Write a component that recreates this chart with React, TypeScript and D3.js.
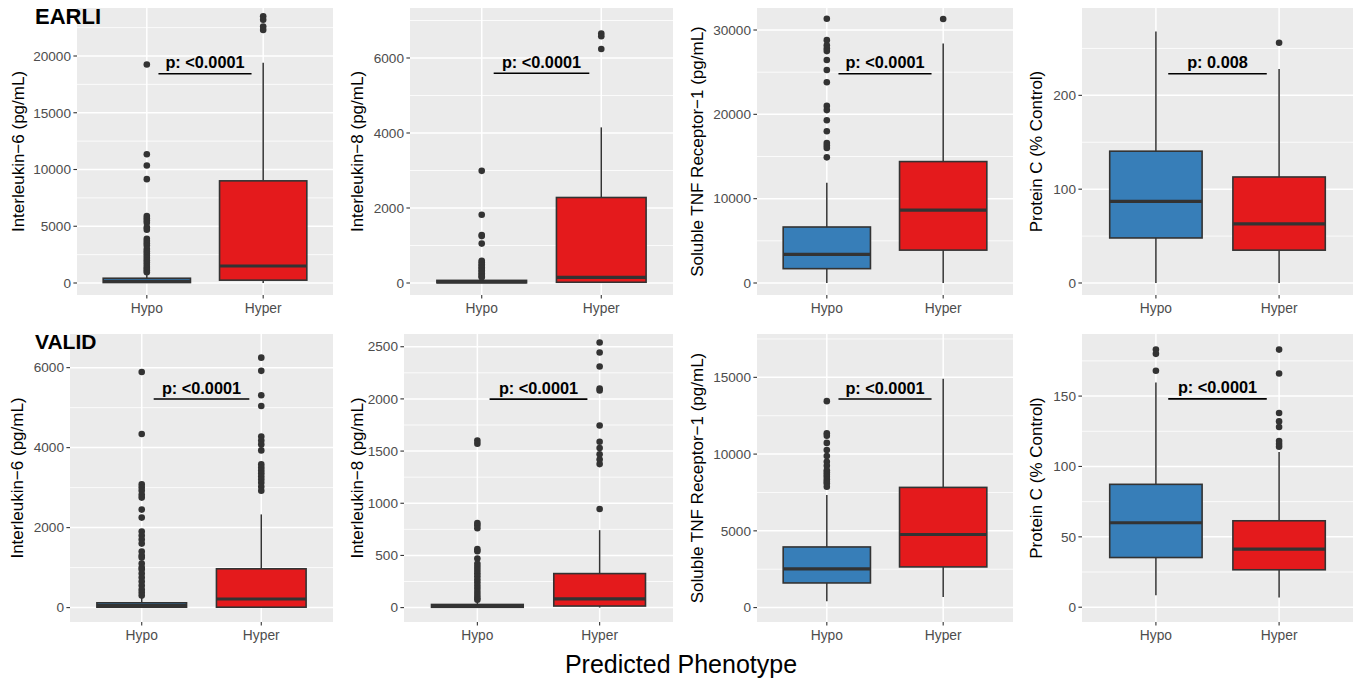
import React from "react";
import * as d3 from "d3";

// ---------- data ----------
const categories = ["Hypo", "Hyper"];
const cohorts = ["EARLI", "VALID"];
const markerTitles = [
  "Interleukin\u22126 (pg/mL)",
  "Interleukin\u22128 (pg/mL)",
  "Soluble TNF Receptor\u22121 (pg/mL)",
  "Protein C (% Control)",
];
const xAxisTitle = "Predicted Phenotype";

// box stats per category: [lowerWhisker, q1, median, q3, upperWhisker]
const earliIL6Stats = [[0, 40, 150, 420, 850], [0, 250, 1500, 9000, 19400]];
const earliIL6Outliers = [
  [19250, 11350, 10350, 9150, 5900, 5700, 5500, 5300, 4900, 4700, 3900, 3700, 3500, 3300, 3000, 2800, 2600, 2400, 2200, 2000, 1800, 1600, 1400, 1250, 1100, 950],
  [23500, 23200, 22600, 22300],
];
const earliIL8Stats = [[0, 5, 30, 70, 130], [0, 20, 150, 2280, 4150]];
const earliIL8Outliers = [
  [2990, 1820, 1280, 1250, 1050, 590, 550, 500, 460, 420, 380, 340, 300, 260, 220, 180, 150],
  [6650, 6580, 6240],
];
const earliTNFStats = [[0, 1700, 3400, 6640, 11900], [0, 3900, 8650, 14400, 28400]];
const earliTNFOutliers = [
  [31340, 28800, 28200, 27800, 27500, 26450, 25250, 23800, 21000, 20500, 19300, 18000, 16600, 16300, 16000, 14900],
  [31300],
];
const earliPCStats = [[0, 48, 87, 140.5, 268], [0, 35, 63, 113, 228]];
const earliPCOutliers = [[], [256]];

const validIL6Stats = [[0, 10, 50, 120, 250], [0, 10, 215, 970, 2330]];
const validIL6Outliers = [
  [5890, 4340, 3080, 3000, 2920, 2820, 2750, 2450, 2250, 1900, 1800, 1700, 1600, 1400, 1300, 1250, 1100, 1000, 950, 850, 750, 650, 550, 450, 380, 300],
  [6250, 5920, 5310, 5040, 4280, 4180, 4080, 3930, 3580, 3500, 3430, 3360, 3280, 3200, 3120, 3020, 2920],
];
const validIL8Stats = [[0, 3, 12, 30, 60], [0, 15, 83, 326, 742]];
const validIL8Outliers = [
  [1600, 1570, 810, 790, 760, 560, 540, 470, 420, 390, 360, 330, 300, 270, 240, 210, 180, 150, 120, 95, 75],
  [2540, 2445, 2310, 2100, 2080, 1745, 1590, 1530, 1470, 1420, 1375, 945],
];
const validTNFStats = [[410, 1605, 2520, 3950, 7340], [690, 2650, 4760, 7830, 14910]];
const validTNFOutliers = [
  [13450, 11350, 11200, 10730, 10260, 9870, 9500, 9240, 8950, 8800, 8650, 8520, 8350, 8200, 8090, 7870],
  [],
];
const validPCStats = [[8.5, 35.3, 60, 87.3, 159.6], [6.9, 26.6, 41.3, 61.4, 110.2]];
const validPCOutliers = [[183, 180, 168], [183, 166, 138, 132, 128, 118, 116, 114]];

// y limits (including expansion) and tick labels
const yDomains = [
  [-1057, 24229], [-320, 7333], [-1423, 32610], [-12.8, 293.1],
  [-360, 6841], [-138, 2622], [-939, 17824], [-10.5, 194.1],
];
const yMajorTicks = [
  [0, 5000, 10000, 15000, 20000], [0, 2000, 4000, 6000], [0, 10000, 20000, 30000], [0, 100, 200],
  [0, 2000, 4000, 6000], [0, 500, 1000, 1500, 2000, 2500], [0, 5000, 10000, 15000], [0, 50, 100, 150],
];
const yMinorTicks = [
  [2500, 7500, 12500, 17500, 22500], [1000, 3000, 5000, 7000], [5000, 15000, 25000], [50, 150, 250],
  [1000, 3000, 5000], [250, 750, 1250, 1750, 2250], [2500, 7500, 12500, 17500], [25, 75, 125, 175],
];
const pLabels = [
  "p: <0.0001", "p: <0.0001", "p: <0.0001", "p: 0.008",
  "p: <0.0001", "p: <0.0001", "p: <0.0001", "p: <0.0001",
];
const pLineValues = [18440, 5592, 24820, 223, 5214, 1998, 13585, 148];

const allStats = [earliIL6Stats, earliIL8Stats, earliTNFStats, earliPCStats, validIL6Stats, validIL8Stats, validTNFStats, validPCStats];
const allOutliers = [earliIL6Outliers, earliIL8Outliers, earliTNFOutliers, earliPCOutliers, validIL6Outliers, validIL8Outliers, validTNFOutliers, validPCOutliers];

// ---------- layout ----------
const layout = [
  { left: 77, right: 333, top: 8, bottom: 295, titleX: 18 },
  { left: 410, right: 673, top: 8, bottom: 295, titleX: 357 },
  { left: 757, right: 1013, top: 8, bottom: 295, titleX: 697 },
  { left: 1082, right: 1353, top: 8, bottom: 295, titleX: 1036 },
  { left: 70, right: 333, top: 334, bottom: 622, titleX: 17 },
  { left: 404, right: 673, top: 334, bottom: 622, titleX: 357 },
  { left: 757, right: 1013, top: 334, bottom: 622, titleX: 697 },
  { left: 1082, right: 1353, top: 334, bottom: 622, titleX: 1036 },
];

const FONT = "'Liberation Sans', Arial, Helvetica, sans-serif";
const fills = ["#377EB8", "#E41A1C"];
const DARK = "#333333";

function Panel({ i }: { i: number }) {
  const L = layout[i];
  const y = d3.scaleLinear().domain(yDomains[i]).range([L.bottom, L.top]);
  const x = d3.scalePoint<string>().domain(categories).range([L.left, L.right]).padding(0.6);
  const step = x.step();
  const bw = step * 0.75;
  const stats = allStats[i];
  const outs = allOutliers[i];
  const x0 = x(categories[0])!;
  const x1 = x(categories[1])!;
  const lx0 = x0 + (x1 - x0) * 0.1;
  const lx1 = x0 + (x1 - x0) * 0.9;
  const ly = y(pLineValues[i]);
  return (
    <g>
      <rect x={L.left} y={L.top} width={L.right - L.left} height={L.bottom - L.top} fill="#EBEBEB" />
      {yMinorTicks[i].map((t) => (
        <line key={"mi" + t} x1={L.left} x2={L.right} y1={y(t)} y2={y(t)} stroke="#fff" strokeWidth={0.8} />
      ))}
      {yMajorTicks[i].map((t) => (
        <line key={"ma" + t} x1={L.left} x2={L.right} y1={y(t)} y2={y(t)} stroke="#fff" strokeWidth={1.5} />
      ))}
      {categories.map((c) => (
        <line key={"vx" + c} x1={x(c)} x2={x(c)} y1={L.top} y2={L.bottom} stroke="#fff" strokeWidth={1.5} />
      ))}
      {/* y ticks */}
      {yMajorTicks[i].map((t) => (
        <g key={"yt" + t}>
          <line x1={L.left - 3.6} x2={L.left} y1={y(t)} y2={y(t)} stroke={DARK} strokeWidth={1.1} />
          <text x={L.left - 6} y={y(t)} dy="0.35em" textAnchor="end" fontSize={13.6} fill="#4D4D4D" fontFamily={FONT}>
            {t}
          </text>
        </g>
      ))}
      {/* x ticks */}
      {categories.map((c) => (
        <g key={"xt" + c}>
          <line x1={x(c)} x2={x(c)} y1={L.bottom} y2={L.bottom + 3.6} stroke={DARK} strokeWidth={1.1} />
          <text x={x(c)} y={L.bottom + 13} dy="0.35em" textAnchor="middle" fontSize={13.8} fill="#4D4D4D" fontFamily={FONT}>
            {c}
          </text>
        </g>
      ))}
      {/* boxes */}
      {categories.map((c, k) => {
        const [lo, q1, md, q3, hi] = stats[k];
        const cx = x(c)!;
        return (
          <g key={"bx" + c}>
            <line x1={cx} x2={cx} y1={y(hi)} y2={y(q3)} stroke={DARK} strokeWidth={1.5} />
            <line x1={cx} x2={cx} y1={y(q1)} y2={y(lo)} stroke={DARK} strokeWidth={1.5} />
            <rect x={cx - bw / 2} y={y(q3)} width={bw} height={Math.max(0, y(q1) - y(q3))} fill={fills[k]} stroke={DARK} strokeWidth={1.6} />
            <line x1={cx - bw / 2} x2={cx + bw / 2} y1={y(md)} y2={y(md)} stroke={DARK} strokeWidth={3.2} />
            {outs[k].map((v, j) => (
              <circle key={j} cx={cx} cy={y(v)} r={3.3} fill={DARK} />
            ))}
          </g>
        );
      })}
      {/* p-value annotation */}
      <line x1={lx0} x2={lx1} y1={ly} y2={ly} stroke="#000" strokeWidth={1.6} />
      <text x={(lx0 + lx1) / 2} y={ly - 5.5} textAnchor="middle" fontSize={16.3} fontWeight="bold" fill="#000" fontFamily={FONT}>
        {pLabels[i]}
      </text>
      {/* y title */}
      <text
        transform={`translate(${L.titleX},${(L.top + L.bottom) / 2}) rotate(-90)`}
        dy="0.35em"
        textAnchor="middle"
        fontSize={17}
        fill="#000"
        fontFamily={FONT}
      >
        {markerTitles[i % 4]}
      </text>
    </g>
  );
}

export default function App() {
  return (
    <svg width={1360} height={681} style={{ position: "absolute", left: 0, top: 0, background: "#fff" }}>
      <rect x={0} y={0} width={1360} height={681} fill="#fff" />
      {layout.map((_, i) => (
        <Panel key={i} i={i} />
      ))}
      <text x={35} y={24} fontSize={22} fontWeight="bold" fontFamily={FONT} fill="#000">
        {cohorts[0]}
      </text>
      <text x={35} y={349} fontSize={21} fontWeight="bold" fontFamily={FONT} fill="#000">
        {cohorts[1]}
      </text>
      <text x={681} y={673} textAnchor="middle" fontSize={25} fontFamily={FONT} fill="#000">
        {xAxisTitle}
      </text>
    </svg>
  );
}
